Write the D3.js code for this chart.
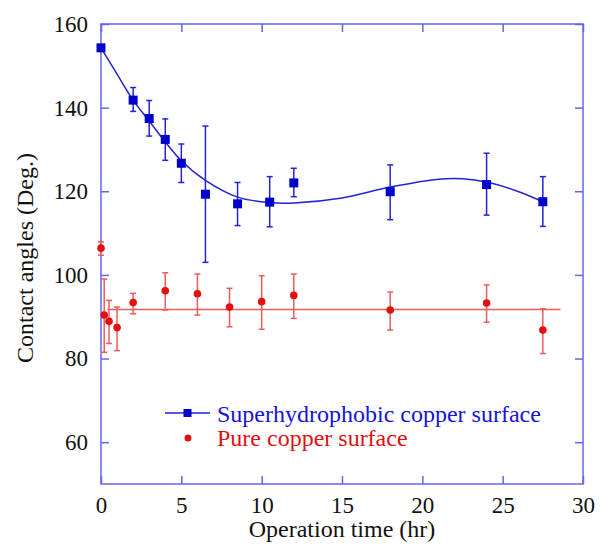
<!DOCTYPE html>
<html>
<head>
<meta charset="utf-8">
<script src="https://cdn.jsdelivr.net/npm/d3@7"></script>
<style>
  body { margin: 0; background: #fff; }
  svg text { font-family: "Times New Roman", "Liberation Serif", Times, "DejaVu Serif", serif; }
</style>
</head>
<body>
<div id="chart"></div>
<script>
// measured points (hr, deg), with error bar bounds
var superTime  = [0, 2, 3, 4, 5, 6.5, 8.5, 10.5, 12, 18, 24, 27.5];
var superAngle = [154.3, 141.8, 137.4, 132.4, 126.7, 119.3, 117.0, 117.4, 122.0, 119.9, 121.6, 117.5];
var superHigh  = [154.3, 144.8, 141.7, 137.3, 131.3, 135.6, 122.1, 123.5, 125.5, 126.3, 129.1, 123.5];
var superLow   = [154.3, 139.1, 133.2, 127.4, 122.1, 103.0, 111.8, 111.5, 118.7, 113.2, 114.3, 111.6];

var pureTime  = [0, 0.2, 0.5, 1, 2, 4, 6, 8, 10, 12, 18, 24, 27.5];
var pureAngle = [106.4, 90.4, 88.9, 87.4, 93.4, 96.2, 95.5, 92.3, 93.6, 95.1, 91.6, 93.3, 86.8];
var pureHigh  = [107.9, 99.0, 93.9, 92.3, 95.6, 100.5, 100.2, 96.8, 99.8, 100.2, 95.9, 97.6, 91.9];
var pureLow   = [104.7, 81.5, 83.6, 81.9, 90.7, 91.6, 90.4, 87.6, 87.0, 89.6, 86.8, 88.7, 81.2];

// fitted curve
var fitTime  = [0, 1, 2, 3, 4, 5, 6.5, 8.5, 10.5, 12, 15, 18, 21, 22.5, 24, 26, 27.5];
var fitAngle = [154.3, 148.0, 141.8, 136.8, 131.8, 127.3, 122.6, 118.6, 117.3, 117.2, 118.4, 121.0, 122.9, 123.0, 122.2, 119.9, 117.5];

var pureFitTime  = [0.4, 28.6];
var pureFitAngle = [91.7, 91.7];

var xTicks = [0, 5, 10, 15, 20, 25, 30];
var yTicks = [60, 80, 100, 120, 140, 160];

var W = 601, H = 545;
var mLeft = 101, mRight = 583, mTop = 24, mBottom = 484;
var serif = '"Times New Roman", "Liberation Serif", Times, "DejaVu Serif", serif';

var blue = '#0000cc', blueLine = '#2323d6', frame = '#6464ee';
var red = '#e31010', redLine = '#ec5c5c';

var svg = d3.select('#chart').append('svg').attr('width', W).attr('height', H)
    .attr('font-family', serif);

var x = d3.scaleLinear().domain([0, 30]).range([mLeft, mRight]);
var y = d3.scaleLinear().domain([50, 160]).range([mBottom, mTop]);

// axes, ticks pointing inward on all four sides
function styleAxis(g) {
    g.attr('font-family', serif).attr('font-size', 23);
    g.select('.domain').remove();
    g.selectAll('.tick line').attr('stroke', frame).attr('stroke-width', 1.5);
    g.selectAll('.tick text').attr('fill', '#111');
}

svg.append('g').attr('transform', 'translate(0,' + mBottom + ')')
    .call(d3.axisBottom(x).tickValues(xTicks).tickSize(-8).tickPadding(13).tickFormat(d3.format('d')))
    .call(styleAxis);
svg.append('g').attr('transform', 'translate(0,' + mTop + ')')
    .call(d3.axisTop(x).tickValues(xTicks).tickSize(-8).tickFormat(''))
    .call(styleAxis);
svg.append('g').attr('transform', 'translate(' + mLeft + ',0)')
    .call(d3.axisLeft(y).tickValues(yTicks).tickSize(-8).tickPadding(13).tickFormat(d3.format('d')))
    .call(styleAxis);
svg.append('g').attr('transform', 'translate(' + mRight + ',0)')
    .call(d3.axisRight(y).tickValues(yTicks).tickSize(-8).tickFormat(''))
    .call(styleAxis);

svg.append('rect')
    .attr('x', mLeft).attr('y', mTop)
    .attr('width', mRight - mLeft).attr('height', mBottom - mTop)
    .attr('fill', 'none').attr('stroke', frame).attr('stroke-width', 1.5);

// fit lines
var line = d3.line().x(function(d) { return x(d[0]); }).y(function(d) { return y(d[1]); });

svg.append('path')
    .datum(d3.zip(pureFitTime, pureFitAngle))
    .attr('d', line)
    .attr('fill', 'none').attr('stroke', redLine).attr('stroke-width', 1.5);

svg.append('path')
    .datum(d3.zip(fitTime, fitAngle))
    .attr('d', line.curve(d3.curveCatmullRom.alpha(0.5)))
    .attr('fill', 'none').attr('stroke', blueLine).attr('stroke-width', 1.5);

// error bars
function errorBars(times, lows, highs, color) {
    var g = svg.append('g').attr('stroke', color).attr('stroke-width', 1.5);
    times.forEach(function(t, i) {
        if (highs[i] - lows[i] < 0.5) return;
        var cx = x(t);
        g.append('line').attr('x1', cx).attr('x2', cx).attr('y1', y(lows[i])).attr('y2', y(highs[i]));
        g.append('line').attr('x1', cx - 3).attr('x2', cx + 3).attr('y1', y(lows[i])).attr('y2', y(lows[i]));
        g.append('line').attr('x1', cx - 3).attr('x2', cx + 3).attr('y1', y(highs[i])).attr('y2', y(highs[i]));
    });
}
errorBars(pureTime, pureLow, pureHigh, redLine);
errorBars(superTime, superLow, superHigh, blueLine);

// markers
svg.append('g').selectAll('circle')
    .data(d3.zip(pureTime, pureAngle))
    .enter().append('circle')
    .attr('cx', function(d) { return x(d[0]); })
    .attr('cy', function(d) { return y(d[1]); })
    .attr('r', 3.8)
    .attr('fill', red);

svg.append('g').selectAll('rect')
    .data(d3.zip(superTime, superAngle))
    .enter().append('rect')
    .attr('x', function(d) { return x(d[0]) - 4.5; })
    .attr('y', function(d) { return y(d[1]) - 4.5; })
    .attr('width', 9).attr('height', 9)
    .attr('fill', blue);

// legend
var lg = svg.append('g');
lg.append('line').attr('x1', 165).attr('x2', 210).attr('y1', 413).attr('y2', 413)
    .attr('stroke', blueLine).attr('stroke-width', 1.5);
lg.append('rect').attr('x', 187.5 - 4).attr('y', 413 - 4).attr('width', 8).attr('height', 8).attr('fill', blue);
lg.append('text').attr('x', 217).attr('y', 422).attr('font-size', 24).attr('fill', '#1414d8')
    .text('Superhydrophobic copper surface');
lg.append('circle').attr('cx', 188).attr('cy', 438).attr('r', 3.5).attr('fill', red);
lg.append('text').attr('x', 217).attr('y', 446).attr('font-size', 24).attr('fill', red)
    .text('Pure copper surface');

// axis titles
svg.append('text')
    .attr('x', (mLeft + mRight) / 2).attr('y', 537)
    .attr('text-anchor', 'middle').attr('font-size', 24).attr('fill', '#111')
    .text('Operation time (hr)');

svg.append('text')
    .attr('transform', 'translate(33,258) rotate(-90)')
    .attr('text-anchor', 'middle').attr('font-size', 24).attr('fill', '#111')
    .text('Contact angles (Deg.)');
</script>
</body>
</html>
